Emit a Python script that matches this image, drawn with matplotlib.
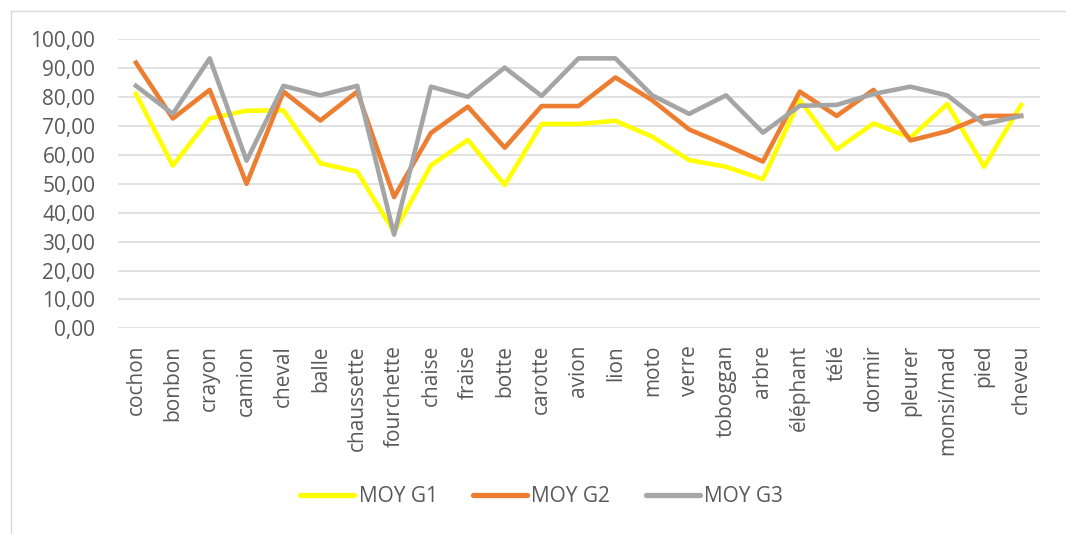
import matplotlib.pyplot as plt
from matplotlib.lines import Line2D

plt.rcParams['font.family'] = ['Open Sans', 'DejaVu Sans']

mots = ['cochon', 'bonbon', 'crayon', 'camion', 'cheval', 'balle', 'chaussette',
        'fourchette', 'chaise', 'fraise', 'botte', 'carotte', 'avion', 'lion',
        'moto', 'verre', 'toboggan', 'arbre', 'éléphant', 'télé', 'dormir',
        'pleurer', 'monsi/mad', 'pied', 'cheveu']

moy_g1 = [81.1, 56.3, 72.6, 75.3, 75.4, 57.1, 54.2, 33.3, 56.4, 65.2, 49.6, 70.7,
          70.7, 71.8, 66.3, 58.2, 55.9, 51.6, 79.0, 61.9, 70.9, 66.0, 77.6, 55.9, 77.3]
moy_g2 = [91.9, 72.6, 82.5, 50.0, 81.9, 71.9, 81.9, 45.4, 67.6, 76.7, 62.5, 76.9,
          76.9, 86.8, 78.9, 68.8, 63.4, 57.7, 81.9, 73.5, 82.5, 65.0, 68.2, 73.5, 73.5]
moy_g3 = [83.9, 74.2, 93.4, 58.0, 83.9, 80.6, 83.9, 32.4, 83.6, 80.1, 90.2, 80.4,
          93.4, 93.4, 80.6, 74.2, 80.6, 67.7, 77.0, 77.3, 81.1, 83.6, 80.6, 70.7, 73.5]

series = [('MOY G1', moy_g1, '#FFFF00'),
          ('MOY G2', moy_g2, '#ED7D31'),
          ('MOY G3', moy_g3, '#A5A5A5')]

texte = '#595959'
fs = 15

fig = plt.figure(figsize=(10.66, 5.34), dpi=100)
ax = fig.add_axes([117.5 / 1066, 1 - 328.3 / 534, 922 / 1066, 289 / 534])

x = list(range(len(mots)))
for nom, vals, coul in series:
    ax.plot(x, vals, color=coul, lw=3.3, label=nom, solid_joinstyle='round')

ax.set_xlim(-0.5, len(mots) - 0.5)
ax.set_ylim(0, 100)
ax.set_yticks(range(0, 101, 10))
ax.set_yticklabels([f'{v:.2f}'.replace('.', ',') for v in range(0, 101, 10)])
ax.set_xticks(x)
ax.set_xticklabels(mots, rotation=90, va='top')
ax.tick_params(axis='both', length=0, colors=texte, labelsize=fs)
ax.tick_params(axis='y', pad=16)
ax.tick_params(axis='x', pad=12)
ax.grid(axis='y', color='#D9D9D9', lw=1.1)
ax.set_axisbelow(True)
for s in ax.spines.values():
    s.set_visible(False)

# bordure de la zone de graphique (gauche et haut)
fig.add_artist(Line2D([10.5 / 1066, 10.5 / 1066], [0, 1 - 10.5 / 534], color='#D9D9D9', lw=1))
fig.add_artist(Line2D([10.5 / 1066, 1], [1 - 10.5 / 534, 1 - 10.5 / 534], color='#D9D9D9', lw=1))

leg = fig.legend(loc='center', bbox_to_anchor=(541.5 / 1066, 1 - 497 / 534), ncol=3,
                 frameon=False, fontsize=fs, labelcolor=texte, handlelength=2.6,
                 handletextpad=0.2, columnspacing=1.7)
for h in leg.get_lines():
    h.set_linewidth(3.8)
    h.set_solid_capstyle('round')

fig.savefig('out.png', dpi=100)
